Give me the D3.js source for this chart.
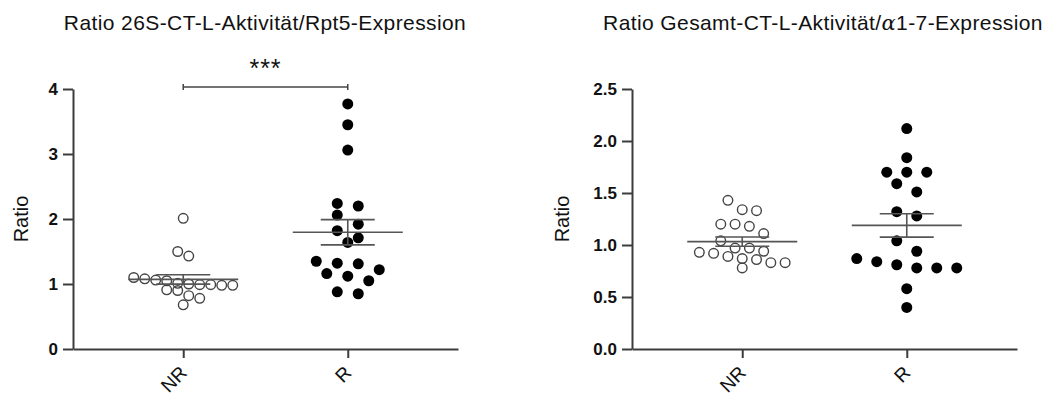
<!DOCTYPE html>
<html>
<head>
<meta charset="utf-8">
<script src="https://cdn.jsdelivr.net/npm/d3@7"></script>
<style>
  html, body { margin: 0; padding: 0; background: #fff; }
  svg { display: block; font-family: "Liberation Sans", Arial, sans-serif; }
</style>
</head>
<body>
<div id="chart"></div>
<script>
// Group labels
const categories = ['NR', 'R'];

// Left panel: 26S-CT-L activity / Rpt5 expression
const leftNR = [2.01, 1.50, 1.43, 1.10, 1.08, 1.06, 1.05, 1.01, 1.00, 0.99, 0.99, 0.98, 0.98,
                0.91, 0.90, 0.82, 0.78, 0.68];
const leftR = [3.77, 3.45, 3.06, 2.24, 2.20, 2.06, 1.92, 1.82, 1.71, 1.64, 1.35, 1.32, 1.31,
               1.22, 1.16, 1.12, 1.05, 0.88, 0.85];

// Right panel: total CT-L activity / alpha1-7 expression
const rightNR = [1.43, 1.34, 1.33, 1.20, 1.20, 1.18, 1.11, 1.04, 0.97, 0.97, 0.94, 0.93, 0.92,
                 0.89, 0.87, 0.86, 0.83, 0.83, 0.78];
const rightR = [2.12, 1.84, 1.70, 1.70, 1.70, 1.59, 1.51, 1.32, 1.28, 1.04, 0.94, 0.87, 0.84,
                0.81, 0.78, 0.78, 0.78, 0.58, 0.40];

const leftTicks = [0, 1, 2, 3, 4];
const rightTicks = [0, 0.5, 1, 1.5, 2, 2.5];

const width = 1059, height = 398;
const axisColor = '#3c3c3c';
const textColor = '#111';

const svg = d3.select('#chart').append('svg')
    .attr('width', width)
    .attr('height', height);

// Mean and standard error of the mean
function stats(values) {
    const mean = d3.mean(values);
    const sem = d3.deviation(values) / Math.sqrt(values.length);
    return { mean, sem };
}

// GraphPad-like scatter: points grouped in rows by y, spread symmetrically around the centre
function swarm(values, y, cx, step, binH) {
    const pts = values.map(v => ({ v, y: y(v) })).sort((a, b) => a.y - b.y);
    const rows = [];
    let cur = null;
    pts.forEach(p => {
        if (!cur || p.y - cur[0].y >= binH) { cur = [p]; rows.push(cur); }
        else cur.push(p);
    });
    rows.forEach(r => r.forEach((p, i) => { p.x = cx + (i - (r.length - 1) / 2) * step; }));
    return pts;
}

function drawPanel(opts) {
    const g = svg.append('g');

    const y = d3.scaleLinear().domain(opts.domain).range([349, 89]);
    const x = d3.scalePoint().domain(categories).range([opts.x0, opts.x0 + 385]).padding(0.67);

    // Title
    const title = g.append('text')
        .attr('x', opts.titleX)
        .attr('y', 30)
        .attr('text-anchor', 'middle')
        .attr('fill', textColor)
        .style('font-size', '21px')
        .style('letter-spacing', '0.4px');
    opts.title.forEach(part => {
        const t = title.append('tspan').text(part.text);
        if (part.serif) t.style('font-family', '"DejaVu Serif", "Liberation Serif", serif').style('font-style', 'italic');
    });

    // Y axis
    const yAxis = g.append('g')
        .attr('transform', `translate(${opts.x0},0)`)
        .call(d3.axisLeft(y).tickValues(opts.ticks).tickFormat(opts.fmt).tickSize(10).tickPadding(5).tickSizeOuter(0));
    yAxis.select('.domain').attr('stroke', axisColor).attr('stroke-width', 2);
    yAxis.selectAll('.tick line').attr('stroke', axisColor).attr('stroke-width', 2);
    yAxis.selectAll('.tick text')
        .attr('fill', textColor)
        .style('font-size', '17px')
        .style('font-weight', 'bold')
        .style('font-family', '"Liberation Sans", Arial, sans-serif');

    // X axis
    const xAxis = g.append('g')
        .attr('transform', 'translate(0,349)')
        .call(d3.axisBottom(x).tickSize(9).tickSizeOuter(0).tickFormat(''));
    xAxis.select('.domain').attr('stroke', axisColor).attr('stroke-width', 2);
    xAxis.selectAll('.tick line').attr('stroke', axisColor).attr('stroke-width', 2);

    g.selectAll('text.xlab')
        .data(categories)
        .join('text')
        .attr('class', 'xlab')
        .attr('transform', d => `translate(${x(d) + 5},374) rotate(-45)`)
        .attr('text-anchor', 'end')
        .attr('fill', textColor)
        .style('font-size', '19px')
        .text(d => d);

    // Y axis title
    g.append('text')
        .attr('transform', `translate(${opts.labelX},${y(opts.domain[1] / 2)}) rotate(-90)`)
        .attr('text-anchor', 'middle')
        .attr('fill', textColor)
        .style('font-size', '20px')
        .text('Ratio');

    // Points
    const nrPts = swarm(opts.nr, y, x('NR'), opts.stepNR, 11);
    const rPts = swarm(opts.r, y, x('R'), opts.stepR, 11);

    g.selectAll('circle.nr')
        .data(nrPts)
        .join('circle')
        .attr('class', 'nr')
        .attr('cx', d => d.x)
        .attr('cy', d => d.y)
        .attr('r', 4.8)
        .attr('fill', 'none')
        .attr('stroke', '#444')
        .attr('stroke-width', 1.4);

    g.selectAll('circle.r')
        .data(rPts)
        .join('circle')
        .attr('class', 'r')
        .attr('cx', d => d.x)
        .attr('cy', d => d.y)
        .attr('r', 5.5)
        .attr('fill', '#000');

    // Mean +/- SEM
    [['NR', opts.nr], ['R', opts.r]].forEach(([cat, vals]) => {
        const s = stats(vals);
        const cx = x(cat);
        const eb = g.append('g').attr('stroke', '#555').attr('stroke-width', 1.6);
        eb.append('line').attr('x1', cx - 55).attr('x2', cx + 55).attr('y1', y(s.mean)).attr('y2', y(s.mean));
        eb.append('line').attr('x1', cx).attr('x2', cx).attr('y1', y(s.mean + s.sem)).attr('y2', y(s.mean - s.sem));
        [s.mean + s.sem, s.mean - s.sem].forEach(v => {
            eb.append('line').attr('x1', cx - 27).attr('x2', cx + 27).attr('y1', y(v)).attr('y2', y(v));
        });
    });

    // Significance bracket
    if (opts.sig) {
        const by = y(opts.domain[1]) - 2;
        const sb = g.append('g').attr('stroke', '#444').attr('stroke-width', 1.5);
        sb.append('line').attr('x1', x('NR')).attr('x2', x('R')).attr('y1', by).attr('y2', by);
        [x('NR'), x('R')].forEach(px => {
            sb.append('line').attr('x1', px).attr('x2', px).attr('y1', by - 3).attr('y2', by + 3);
        });
        g.append('text')
            .attr('x', (x('NR') + x('R')) / 2)
            .attr('y', 77)
            .attr('text-anchor', 'middle')
            .attr('fill', textColor)
            .style('font-size', '25px')
            .style('letter-spacing', '1px')
            .text(opts.sig);
    }
}

drawPanel({
    x0: 73,
    domain: [0, 4],
    ticks: leftTicks,
    fmt: d3.format('d'),
    nr: leftNR,
    r: leftR,
    stepNR: 11,
    stepR: 21,
    labelX: 28,
    titleX: 265,
    title: [{ text: 'Ratio 26S-CT-L-Aktivität/Rpt5-Expression' }],
    sig: '***'
});

drawPanel({
    x0: 632,
    domain: [0, 2.5],
    ticks: rightTicks,
    fmt: d3.format('.1f'),
    nr: rightNR,
    r: rightR,
    stepNR: 14.3,
    stepR: 20,
    labelX: 569,
    titleX: 823,
    title: [{ text: 'Ratio Gesamt-CT-L-Aktivität/' }, { text: 'α', serif: true }, { text: '1-7-Expression' }]
});
</script>
</body>
</html>
